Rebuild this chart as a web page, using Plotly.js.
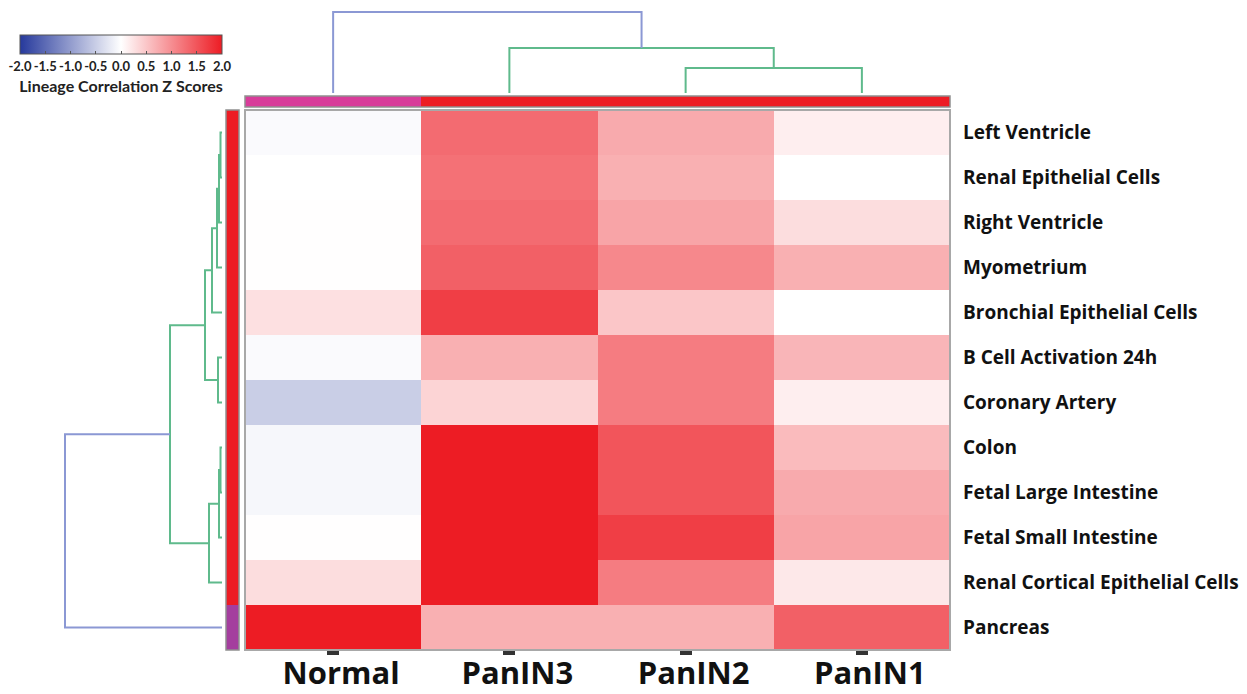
<!DOCTYPE html>
<html><head><meta charset="utf-8">
<script src="https://cdn.plot.ly/plotly-3.0.1.min.js"></script>
<style>html,body{margin:0;padding:0;background:#fff;overflow:hidden}</style>
</head><body><div id="chart" style="width:1247px;height:694px"></div>
<script>
// ---------- data ----------
const columns = ['Normal', 'PanIN3', 'PanIN2', 'PanIN1'];
const rows = ['Left Ventricle', 'Renal Epithelial Cells', 'Right Ventricle', 'Myometrium',
  'Bronchial Epithelial Cells', 'B Cell Activation 24h', 'Coronary Artery', 'Colon',
  'Fetal Large Intestine', 'Fetal Small Intestine', 'Renal Cortical Epithelial Cells', 'Pancreas'];
const zNormal = [-0.05, 0.0, 0.01, 0.01, 0.27, -0.05, -0.5, -0.08, -0.08, 0.01, 0.3, 2.0];
const zPanIN3 = [1.3, 1.25, 1.3, 1.4, 1.7, 0.7, 0.38, 2.0, 2.0, 2.0, 2.0, 0.7];
const zPanIN2 = [0.75, 0.7, 0.8, 1.05, 0.5, 1.15, 1.15, 1.5, 1.5, 1.7, 1.15, 0.7];
const zPanIN1 = [0.15, 0.0, 0.3, 0.7, 0.0, 0.65, 0.15, 0.6, 0.75, 0.8, 0.2, 1.4];
const columnGroups = [0, 1, 1, 1];
const rowGroups = [1, 1, 1, 1, 1, 1, 1, 1, 1, 1, 1, 0];
const colorTicks = [-2.0, -1.5, -1.0, -0.5, 0.0, 0.5, 1.0, 1.5, 2.0];
// linkage rows: [childA, childB, height]; ids < n are leaves, n+k is the k-th merge
const rowLinkage = [[0, 1, 1.5], [12, 2, 3], [13, 3, 5], [14, 4, 10], [5, 6, 4], [15, 16, 17],
  [7, 8, 1.5], [18, 9, 3], [19, 10, 13], [17, 20, 52], [21, 11, 157]];
const columnLinkage = [[2, 3, 25], [1, 4, 45], [0, 5, 81]];

// ---------- helpers ----------
const W = 1247, H = 694;
const px = v => v / W;
const py = v => 1 - v / H;
function dendroSegments(linkage, n) {
  const pos = [], hgt = [];
  for (let i = 0; i < n; i++) { pos.push(i); hgt.push(0); }
  const green = { p: [], h: [] }, blue = { p: [], h: [] };
  linkage.forEach((m, k) => {
    const [a, b, h] = m;
    const tgt = (k === linkage.length - 1) ? blue : green;
    tgt.p.push(pos[a], pos[a], pos[b], pos[b], null);
    tgt.h.push(hgt[a], h, h, hgt[b], null);
    pos.push((pos[a] + pos[b]) / 2); hgt.push(h);
  });
  return { green, blue };
}
const zMatrix = rows.map((r, i) => [zNormal[i], zPanIN3[i], zPanIN2[i], zPanIN1[i]]);

const heatX = [px(245), px(950)];
const heatY = [py(650), py(110)];
const GREEN = '#5fba8c', BLUE = '#8b98d4';
const sansBold = '"Open Sans", Lato, sans-serif';
const smallFam = 'Lato, "Open Sans", sans-serif';

const rowD = dendroSegments(rowLinkage, rows.length);
const colD = dendroSegments(columnLinkage, columns.length);

const traces = [
  {
    type: 'heatmap', z: zMatrix, x: columns, y: rows, xaxis: 'x', yaxis: 'y',
    zmin: -2, zmax: 2,
    colorscale: [[0, '#26399c'], [0.5, '#ffffff'], [1, '#ed1c24']],
    hoverinfo: 'x+y+z',
    colorbar: {
      orientation: 'h', x: px(121), xanchor: 'center', y: py(35), yanchor: 'top',
      lenmode: 'pixels', len: 202, thicknessmode: 'pixels', thickness: 19,
      xpad: 0, ypad: 0, outlinewidth: 1, outlinecolor: '#555',
      tickvals: colorTicks, ticktext: colorTicks.map(v => v.toFixed(1)), tickangle: 0,
      ticks: 'inside', ticklen: 3, tickcolor: '#555',
      tickfont: { family: smallFam, size: 13, weight: 'bold', color: '#222' },
      ticklabelstandoff: 2,
      title: { text: 'Lineage Correlation Z Scores', side: 'bottom',
        font: { family: smallFam, size: 16, weight: 'bold', color: '#222' } }
    }
  },
  {
    type: 'heatmap', z: [columnGroups], x: columns, y: [0], xaxis: 'x2', yaxis: 'y2',
    zmin: 0, zmax: 1, showscale: false, hoverinfo: 'skip',
    colorscale: [[0, '#d83c9a'], [1, '#ed1c24']]
  },
  {
    type: 'heatmap', z: rowGroups.map(g => [g]), x: [0], y: rows, xaxis: 'x3', yaxis: 'y3',
    zmin: 0, zmax: 1, showscale: false, hoverinfo: 'skip',
    colorscale: [[0, '#a43e9e'], [1, '#ed1c24']]
  },
  { type: 'scatter', mode: 'lines', x: colD.green.p, y: colD.green.h, xaxis: 'x4', yaxis: 'y4',
    line: { color: GREEN, width: 2 }, hoverinfo: 'skip', showlegend: false },
  { type: 'scatter', mode: 'lines', x: colD.blue.p, y: colD.blue.h, xaxis: 'x4', yaxis: 'y4',
    line: { color: BLUE, width: 2 }, hoverinfo: 'skip', showlegend: false },
  { type: 'scatter', mode: 'lines', x: rowD.green.h, y: rowD.green.p, xaxis: 'x5', yaxis: 'y5',
    line: { color: GREEN, width: 2 }, hoverinfo: 'skip', showlegend: false },
  { type: 'scatter', mode: 'lines', x: rowD.blue.h, y: rowD.blue.p, xaxis: 'x5', yaxis: 'y5',
    line: { color: BLUE, width: 2 }, hoverinfo: 'skip', showlegend: false }
];

const hidden = { showgrid: false, zeroline: false, showticklabels: false, ticks: '', showline: false, fixedrange: true };

const layout = {
  width: W, height: H, margin: { l: 0, r: 0, t: 0, b: 0 },
  paper_bgcolor: '#ffffff', plot_bgcolor: 'rgba(0,0,0,0)',
  font: { family: sansBold, color: '#111' },
  showlegend: false,
  xaxis: {
    domain: heatX, anchor: 'y', type: 'category', range: [-0.5, 3.5],
    showgrid: false, zeroline: false, showline: false,
    ticks: 'outside', ticklen: 4, tickwidth: 12, tickcolor: '#333',
    tickfont: { family: sansBold, size: 31, weight: 'bold', color: '#111' },
    ticklabelstandoff: -8, ticklabelshift: 8, fixedrange: true
  },
  yaxis: {
    domain: heatY, anchor: 'x', type: 'category', range: [11.5, -0.5], side: 'right',
    showgrid: false, zeroline: false, showline: false, ticks: '',
    tickfont: { family: sansBold, size: 19, weight: 'bold', color: '#111' },
    ticklabelstandoff: 12, fixedrange: true
  },
  xaxis2: Object.assign({ domain: heatX, anchor: 'y2', range: [-0.5, 3.5], type: 'category' }, hidden),
  yaxis2: Object.assign({ domain: [py(107), py(96)], anchor: 'x2' }, hidden),
  xaxis3: Object.assign({ domain: [px(226), px(239)], anchor: 'y3' }, hidden),
  yaxis3: Object.assign({ domain: heatY, anchor: 'x3', type: 'category', range: [11.5, -0.5] }, hidden),
  xaxis4: Object.assign({ domain: heatX, anchor: 'y4', range: [-0.5, 3.5] }, hidden),
  yaxis4: Object.assign({ domain: [py(93), py(10)], anchor: 'x4', range: [0, 83] }, hidden),
  xaxis5: Object.assign({ domain: [0, px(222)], anchor: 'y5', range: [222, 0] }, hidden),
  yaxis5: Object.assign({ domain: heatY, anchor: 'x5', range: [11.5, -0.5] }, hidden),
  shapes: [
    { type: 'rect', xref: 'x domain', yref: 'y domain', x0: 0, x1: 1, y0: 0, y1: 1,
      line: { color: '#a8a8a8', width: 2 } },
    { type: 'rect', xref: 'x2 domain', yref: 'y2 domain', x0: 0, x1: 1, y0: 0, y1: 1,
      line: { color: '#909090', width: 1.5 } },
    { type: 'rect', xref: 'x3 domain', yref: 'y3 domain', x0: 0, x1: 1, y0: 0, y1: 1,
      line: { color: '#909090', width: 1.5 } }
  ]
};

Plotly.newPlot('chart', traces, layout, { displayModeBar: false, staticPlot: true });
</script>
</body></html>
